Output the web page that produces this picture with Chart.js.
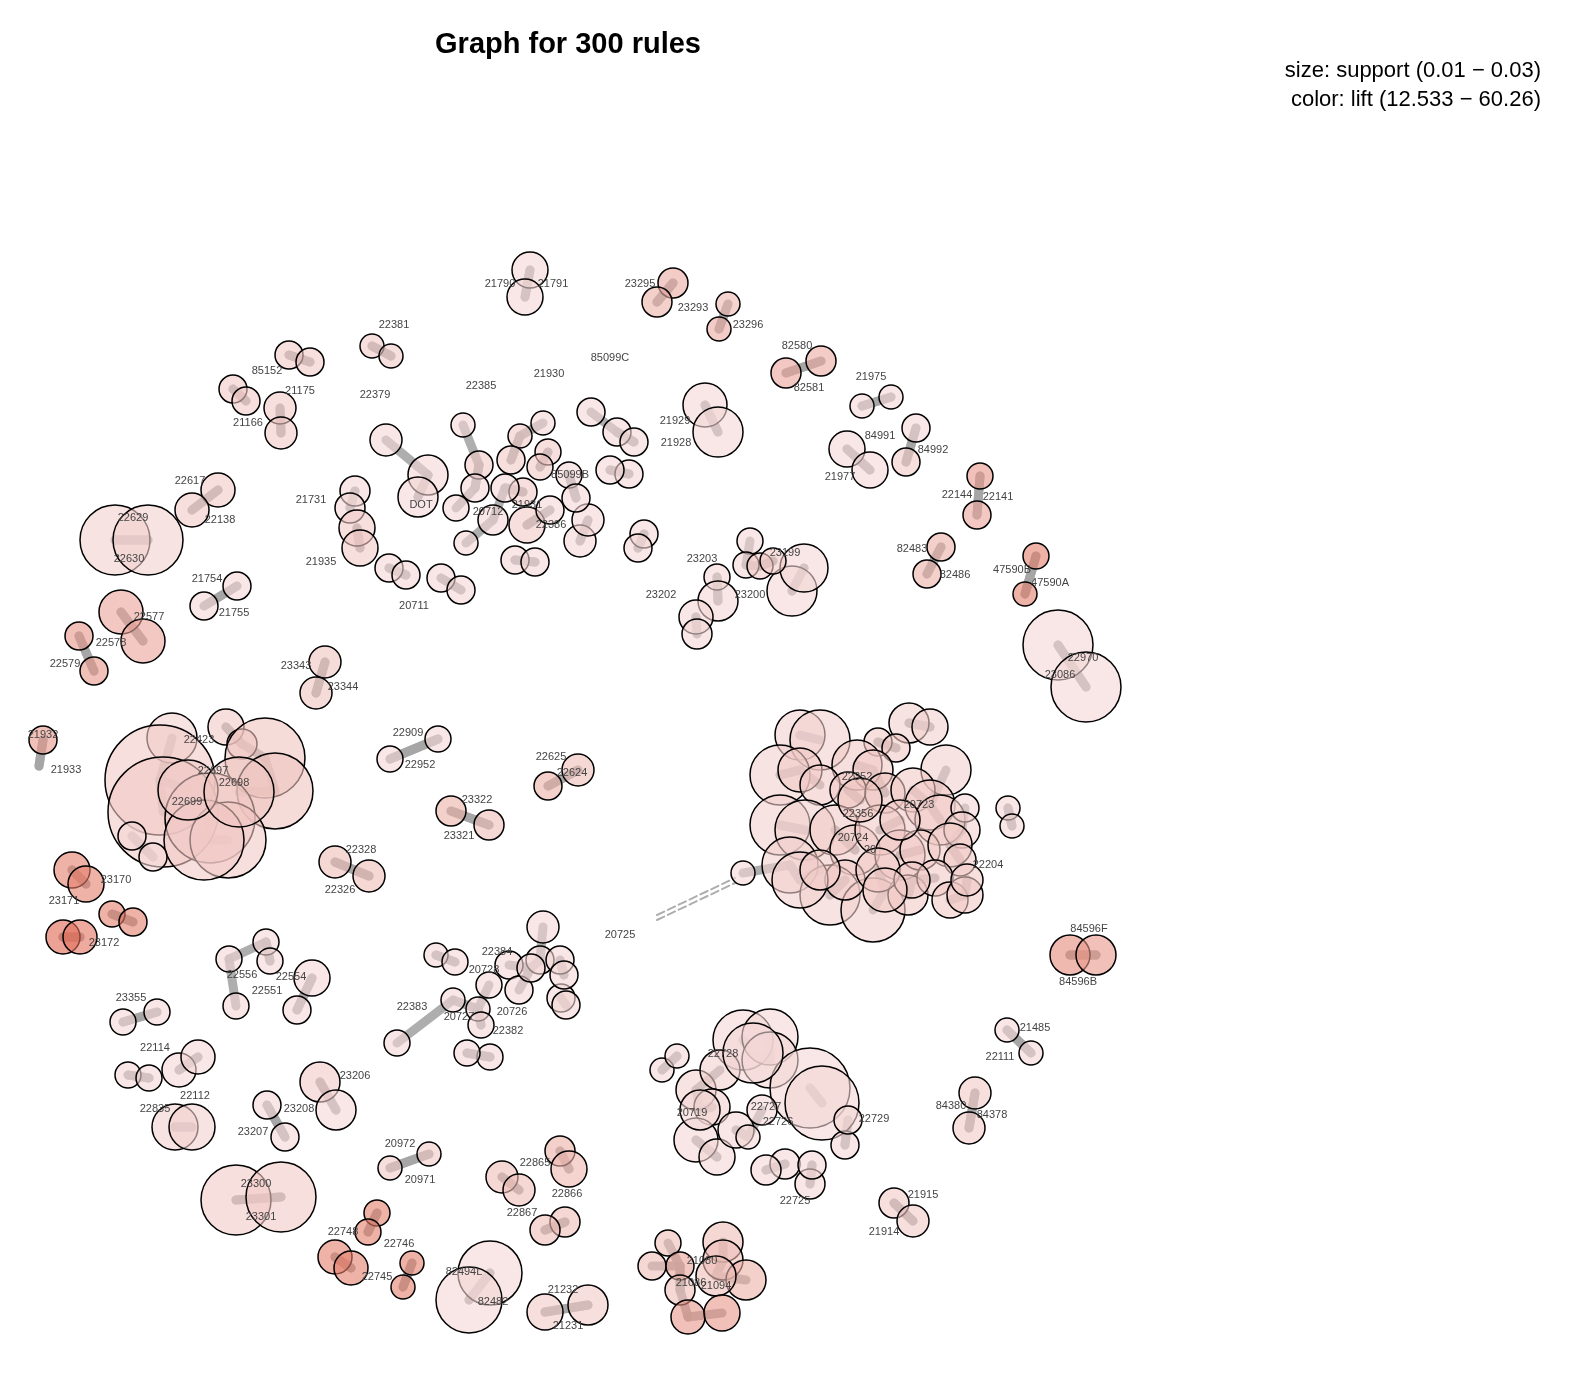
<!DOCTYPE html>
<html><head><meta charset="utf-8">
<script src="https://cdn.jsdelivr.net/npm/chart.js@4/dist/chart.umd.min.js"></script>
<style>html,body{margin:0;padding:0;background:#fff;overflow:hidden}canvas{display:block}</style>
</head><body><canvas id="c" width="1590" height="1386" style="width:1590px;height:1386px"></canvas>
<script>
// node layout: [x, y, support-size, lift-level(0..1)]
const topNodes=[[530,270,18,.1],[525,297,18,.1],[673,283,15,.45],[657,302,15,.4],[728,304,12,.35],[719,329,12,.45],[786,373,15,.5],[821,361,15,.45],[862,406,12,.1],[891,397,12,.1],[916,428,14,.1],[906,462,14,.2],[847,449,18,.1],[870,470,18,.1],[980,476,13,.6],[977,515,14,.5],[941,547,14,.4],[927,574,14,.4],[1036,556,13,.8],[1025,594,12,.8],[1058,645,35,.1],[1086,687,35,.1],[372,346,12,.2],[391,356,12,.2],[289,355,14,.2],[310,362,14,.2],[233,389,14,.2],[246,401,14,.2],[280,408,16,.2],[281,433,16,.2]];
const centerNodes=[[463,425,12,.1],[543,423,12,.1],[591,412,14,.1],[520,436,12,.2],[548,452,13,.2],[479,465,14,.2],[511,460,14,.2],[540,467,13,.2],[569,475,13,.1],[617,432,14,.1],[634,442,14,.1],[629,474,14,.1],[610,470,14,.1],[644,534,14,.1],[638,548,14,.1],[386,440,16,.1],[428,475,20,.1],[418,497,20,.1],[355,491,15,.1],[350,508,15,.1],[357,528,18,.2],[360,548,18,.2],[389,568,14,.1],[406,575,14,.1],[441,578,14,.1],[461,590,14,.1],[456,508,13,.1],[466,543,12,.1],[493,520,15,.1],[523,492,14,.2],[527,525,18,.2],[515,560,14,.1],[535,562,14,.1],[580,541,16,.1],[588,520,16,.1],[576,498,14,.1],[550,510,14,.1],[505,488,14,.1],[475,488,14,.1],[705,405,22,.1],[718,432,25,.1],[750,541,13,.1],[746,565,13,.1],[717,577,13,.1],[718,601,20,.1],[696,617,17,.1],[697,634,15,.1],[792,591,25,.1],[804,568,24,.1],[760,566,13,.2],[773,561,13,.2]];
const leftNodes=[[115,540,35,.15],[148,540,35,.15],[218,490,17,.2],[192,510,17,.2],[204,606,14,.1],[237,586,14,.1],[121,612,22,.5],[143,641,22,.5],[79,636,14,.6],[94,671,14,.6],[325,662,16,.25],[316,693,16,.25],[438,739,13,.1],[390,759,13,.1],[43,740,14,.6],[39,766,14,.6],[172,738,25,.15],[226,727,18,.2],[242,744,15,.2],[265,758,40,.25],[275,791,38,.25],[160,780,55,.2],[163,812,55,.2],[210,818,45,.2],[228,840,38,.2],[204,840,40,.2],[188,790,30,.2],[239,792,35,.25],[132,836,14,.1],[153,857,14,.1],[72,870,18,.8],[86,884,18,.8],[112,914,13,.8],[133,922,14,.8],[63,937,17,1],[80,937,17,.9],[451,811,15,.4],[489,825,15,.3],[548,786,14,.4],[578,770,16,.3],[335,862,16,.3],[369,876,16,.3]];
const rightNodes=[[800,735,25,.15],[820,740,30,.15],[909,723,20,.15],[930,727,18,.15],[946,770,25,.15],[878,742,14,.2],[896,748,14,.2],[857,765,25,.2],[873,770,20,.2],[780,775,30,.15],[800,770,22,.2],[820,785,20,.2],[848,790,18,.2],[885,793,20,.25],[913,790,22,.2],[930,805,25,.2],[940,820,25,.2],[965,808,14,.1],[962,830,18,.15],[780,825,30,.15],[805,830,30,.15],[835,830,25,.2],[855,850,25,.2],[880,830,25,.2],[900,855,25,.25],[920,850,20,.2],[950,845,22,.2],[960,860,16,.2],[790,865,28,.15],[830,895,30,.15],[873,910,32,.15],[908,895,20,.2],[935,878,18,.2],[950,900,18,.2],[965,895,18,.2],[967,880,16,.2],[845,880,20,.2],[800,880,28,.15],[878,870,22,.2],[820,870,20,.2],[912,880,18,.2],[885,890,22,.2],[860,800,22,.25],[900,820,20,.2],[743,873,12,.1],[1008,808,12,.1],[1012,826,12,.1],[1070,955,20,.7],[1096,955,20,.6],[1007,1030,12,.1],[1031,1053,12,.1],[975,1093,16,.2],[969,1128,16,.2],[894,1203,15,.2],[913,1221,16,.2]];
const bottomNodes=[[543,927,16,.1],[436,955,12,.1],[455,962,13,.1],[509,965,14,.1],[540,960,14,.1],[560,960,14,.1],[489,985,13,.1],[519,990,14,.1],[561,998,14,.1],[566,1005,14,.1],[453,1000,12,.1],[478,1009,12,.1],[481,1025,13,.1],[490,1057,13,.1],[467,1053,13,.1],[531,968,14,.1],[564,975,14,.1],[397,1043,13,.1],[320,1082,20,.2],[336,1110,20,.1],[267,1105,14,.1],[285,1137,14,.1],[229,959,13,.1],[266,942,13,.1],[270,961,13,.1],[312,978,18,.1],[236,1006,13,.1],[297,1010,14,.1],[123,1022,13,.1],[157,1012,13,.1],[128,1075,13,.1],[149,1078,13,.1],[179,1070,17,.1],[198,1057,17,.1],[175,1127,23,.15],[192,1127,23,.15],[236,1200,35,.2],[281,1197,35,.2],[390,1168,12,.2],[429,1154,12,.2],[377,1213,13,.8],[368,1232,13,.8],[335,1257,17,.8],[351,1268,17,.8],[412,1263,12,.8],[403,1287,12,.8],[490,1273,32,.1],[469,1300,33,.1],[502,1177,16,.3],[519,1190,16,.3],[560,1151,15,.4],[569,1169,18,.35],[565,1222,15,.3],[545,1230,15,.3],[545,1312,18,.2],[588,1305,20,.2],[668,1243,13,.3],[652,1266,14,.3],[680,1266,14,.5],[723,1242,20,.3],[723,1260,20,.3],[746,1280,20,.4],[716,1276,20,.3],[680,1290,15,.3],[688,1317,17,.6],[722,1313,18,.6],[743,1040,30,.1],[770,1037,28,.1],[770,1060,28,.1],[810,1088,40,.1],[822,1103,37,.1],[696,1090,20,.15],[720,1070,20,.15],[662,1070,12,.1],[677,1056,12,.1],[712,1107,18,.15],[696,1140,22,.1],[717,1157,18,.1],[736,1130,18,.1],[748,1137,12,.1],[762,1110,15,.1],[845,1145,14,.1],[848,1120,14,.1],[785,1164,15,.1],[810,1184,15,.1],[812,1165,14,.1],[766,1170,15,.1],[753,1053,30,.1],[700,1110,20,.1]];
const itemLabels=[["21790",500,284],["21791",553,284],["23295",640,284],["23293",693,308],["23296",748,325],["82580",797,346],["82581",809,388],["21975",871,377],["84991",880,436],["84992",933,450],["21977",840,477],["22144",957,495],["22141",998,497],["82483",912,549],["82486",955,575],["47590B",1012,570],["47590A",1050,583],["22970",1083,658],["23086",1060,675],["22381",394,325],["22379",375,395],["85152",267,371],["21175",300,391],["21166",248,423],["22385",481,386],["21930",549,374],["85099C",610,358],["21929",675,421],["21928",676,443],["21731",311,500],["DOT",421,505],["20712",488,512],["21931",527,505],["85099B",570,475],["22386",551,525],["21935",321,562],["20711",414,606],["23203",702,559],["23199",785,553],["23202",661,595],["23200",750,595],["22617",190,481],["22138",220,520],["22629",133,518],["22630",129,559],["21754",207,579],["21755",234,613],["22577",149,617],["22578",111,643],["22579",65,664],["23343",296,666],["23344",343,687],["22909",408,733],["22952",420,765],["22625",551,757],["22624",572,773],["23322",477,800],["23321",459,836],["21932",43,735],["21933",66,770],["22423",199,740],["22697",213,771],["22698",234,783],["22699",187,802],["22328",361,850],["22326",340,890],["23170",116,880],["23171",64,901],["23172",104,943],["20725",620,935],["22384",497,952],["20728",484,970],["22383",412,1007],["20726",512,1012],["20727",459,1017],["22382",508,1031],["22556",242,975],["22554",291,977],["22551",267,991],["23355",131,998],["22114",155,1048],["22112",195,1096],["22835",155,1109],["23206",355,1076],["23208",299,1109],["23207",253,1132],["23300",256,1184],["23301",261,1217],["20972",400,1144],["20971",420,1180],["22865",535,1163],["22866",567,1194],["22867",522,1213],["22748",343,1232],["22746",399,1244],["22745",377,1277],["82494L",464,1272],["82482",493,1302],["21232",563,1290],["21231",568,1326],["21080",702,1261],["21086",691,1283],["21094",716,1286],["22728",723,1054],["22727",766,1107],["22726",778,1122],["20719",692,1113],["22729",874,1119],["22725",795,1201],["21915",923,1195],["21914",884,1232],["84380",951,1106],["84378",992,1115],["21485",1035,1028],["22111",1000,1057],["84596F",1089,929],["84596B",1078,982],["22352",857,777],["20723",919,805],["22356",858,814],["20724",853,838],["20",870,850],["22204",988,865]];

const all=[...topNodes,...centerNodes,...leftNodes,...rightNodes,...bottomNodes];
function col(l,a){const c0=[245,228,228],c1=[224,100,78];const m=c0.map((v,i)=>Math.round(v+(c1[i]-v)*l));return `rgba(${m[0]},${m[1]},${m[2]},${a})`;}
const bg={id:'bg',beforeDatasetsDraw(ch){const ctx=ch.ctx,xs=ch.scales.x,ys=ch.scales.y;ctx.save();ctx.strokeStyle='rgba(165,165,165,0.9)';ctx.lineCap='round';
 all.forEach((n,i)=>{let best=-1,bd=1e9;all.forEach((m,j)=>{if(i===j)return;const d=Math.hypot(n[0]-m[0],n[1]-m[1]);if(d<bd){bd=d;best=j;}});if(best<0||bd>90)return;const m=all[best];ctx.lineWidth=9;ctx.beginPath();ctx.moveTo(xs.getPixelForValue(n[0]),ys.getPixelForValue(n[1]));ctx.lineTo(xs.getPixelForValue(m[0]),ys.getPixelForValue(m[1]));ctx.stroke();});
 ctx.setLineDash([8,4]);ctx.lineWidth=2;[0,5].forEach(o=>{ctx.beginPath();ctx.moveTo(xs.getPixelForValue(657),ys.getPixelForValue(915+o));ctx.lineTo(xs.getPixelForValue(735),ys.getPixelForValue(878+o));ctx.stroke();});
 ctx.restore();}};
const txt={id:'txt',afterDatasetsDraw(ch){const ctx=ch.ctx,xs=ch.scales.x,ys=ch.scales.y;ctx.save();ctx.fillStyle='#444';ctx.font='11px Arial, "Liberation Sans"';ctx.textAlign='center';ctx.textBaseline='middle';
 itemLabels.forEach(l=>ctx.fillText(l[0],xs.getPixelForValue(l[1]),ys.getPixelForValue(l[2])));
 ctx.fillStyle='#000';ctx.font='bold 29px "Liberation Sans", Arial';ctx.fillText('Graph for 300 rules',568,45);
 ctx.font='22px "Liberation Sans", Arial';ctx.textAlign='right';ctx.fillText('size: support (0.01 − 0.03)',1541,71);ctx.fillText('color: lift (12.533 − 60.26)',1541,100);ctx.restore();}};
const chart=new Chart(document.getElementById('c'),{type:'bubble',
 data:{datasets:[{data:all.map(n=>({x:n[0],y:n[1],r:n[2]})),backgroundColor:all.map(n=>col(n[3],0.6)),borderColor:'#000',borderWidth:1.5,hoverRadius:0,clip:false}]},
 options:{responsive:false,devicePixelRatio:1,animation:false,layout:{padding:0},
  plugins:{legend:{display:false},tooltip:{enabled:false}},
  scales:{x:{type:'linear',min:0,max:1590,display:false},y:{type:'linear',min:0,max:1386,reverse:true,display:false}}},
 plugins:[bg,txt]});
// make the value space coincide with canvas pixels
const a=chart.chartArea;
chart.options.scales.x.min=a.left;chart.options.scales.x.max=a.right;
chart.options.scales.y.min=a.top;chart.options.scales.y.max=a.bottom;
chart.update();
</script></body></html>
